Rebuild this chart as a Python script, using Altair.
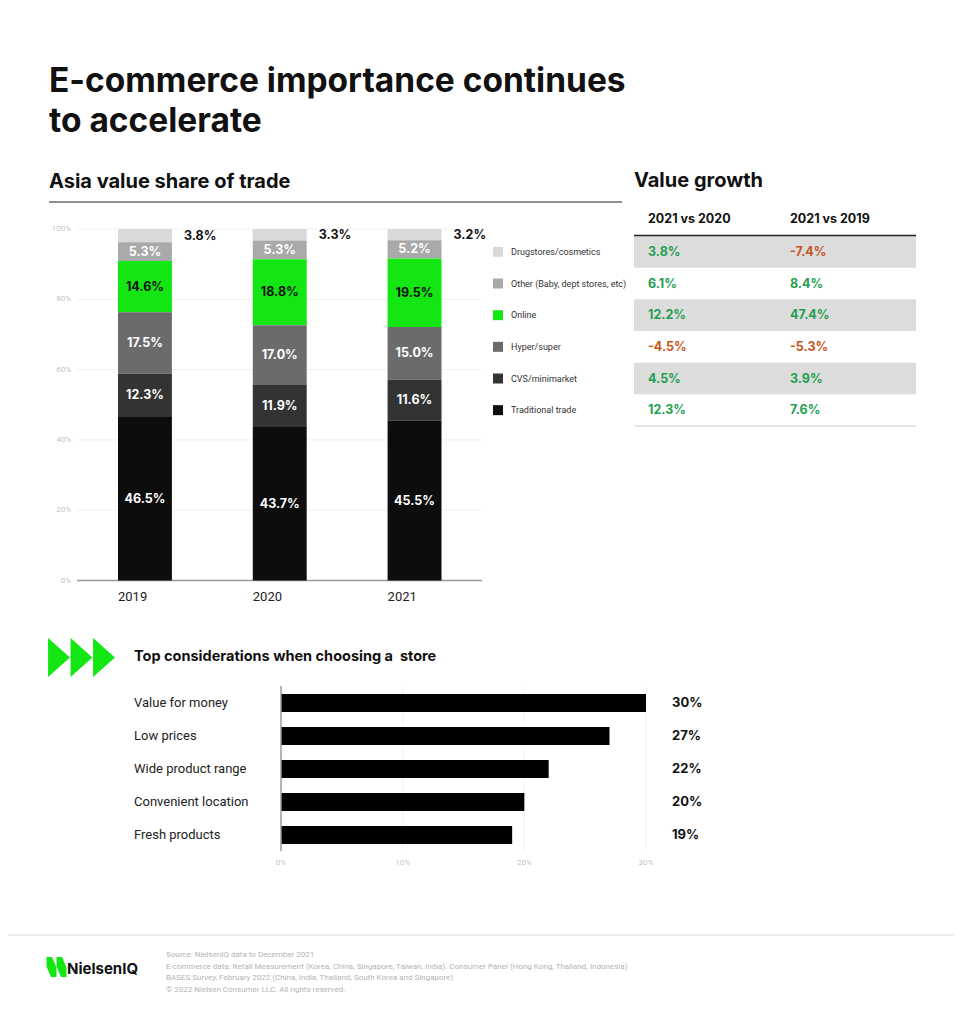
import pandas as pd
import altair as alt

# page offset: the html body has an 8px margin
OFF = 8
W, H = 946, 1007
BOLD = "Inter"
REG = "Roboto"

title = ["E-commerce importance continues", "to accelerate"]

years = ["2019", "2020", "2021"]
channels = ["Drugstores/cosmetics", "Other (Baby, dept stores, etc)", "Online",
            "Hyper/super", "CVS/minimarket", "Traditional trade"]
channel_colors = ["#d9d9d9", "#a9a9a9", "#14e614", "#6b6b6b", "#333333", "#0d0d0d"]
share_2019 = [3.8, 5.3, 14.6, 17.5, 12.3, 46.5]
share_2020 = [3.3, 5.3, 18.8, 17.0, 11.9, 43.7]
share_2021 = [3.2, 5.2, 19.5, 15.0, 11.6, 45.5]
share_ticks = [0, 20, 40, 60, 80, 100]

growth_cols = ["2021 vs 2020", "2021 vs 2019"]
growth_2020 = [3.8, 6.1, 12.2, -4.5, 4.5, 12.3]
growth_2019 = [-7.4, 8.4, 47.4, -5.3, 3.9, 7.6]

reasons = ["Value for money", "Low prices", "Wide product range",
           "Convenient location", "Fresh products"]
reason_pct = [30, 27, 22, 20, 19]
reason_ticks = [0, 10, 20, 30]

footer = ["Source: NielsenIQ data to December 2021",
          "E-commerce data: Retail Measurement (Korea, China, Singapore, Taiwan, India). Consumer Panel (Hong Kong, Thailand, Indonesia)",
          "BASES Survey, February 2022 (China, India, Thailand, South Korea and Singapore)",
          "\u00a9 2022 Nielsen Consumer LLC. All rights reserved."]


def px(v):
    return v - OFF


def text(t, x, y, size, font=REG, weight="normal", color="#111111",
         align="left", baseline="middle", **kw):
    return alt.Chart(pd.DataFrame({"k": [0]})).mark_text(
        text=t, font=font, fontSize=size, fontWeight=weight, color=color,
        align=align, baseline=baseline, **kw
    ).encode(x=alt.value(px(x)), y=alt.value(px(y)))


def hline(x1, x2, y, color, width=1):
    return alt.Chart(pd.DataFrame({"k": [0]})).mark_rule(
        color=color, strokeWidth=width
    ).encode(x=alt.value(px(x1)), x2=alt.value(px(x2)), y=alt.value(px(y)))


# ---------- stacked share chart ----------
rows = []
for yr, vals in zip(years, [share_2019, share_2020, share_2021]):
    for i, (ch, v) in enumerate(zip(channels, vals)):
        rows.append({"year": yr, "channel": ch, "value": v, "order": len(channels) - i})
share = pd.DataFrame(rows)

sx = alt.Scale(type="band", domain=years, range=[px(118), px(441.5)],
               paddingInner=0.6, paddingOuter=0)
sy = alt.Scale(domain=[0, 100], range=[px(580.5), px(229)], nice=False, zero=True)
color = alt.Scale(domain=channels, range=channel_colors)

stacked = alt.Chart(share).transform_stack(
    stack="value", groupby=["year"], as_=["v0", "v1"],
    sort=[alt.SortField("order", "ascending")]
).transform_calculate(
    mid="(datum.v0 + datum.v1) / 2",
    lbl="format(datum.value, '.1f') + '%'"
)

bars = stacked.mark_bar().encode(
    x=alt.X("year:O", scale=sx, axis=None),
    y=alt.Y("v0:Q", scale=sy, axis=None, stack=None),
    y2="v1:Q",
    color=alt.Color("channel:N", scale=color, legend=None),
)

inner_lbl = stacked.transform_filter(
    alt.datum.channel != channels[0]
).mark_text(font=BOLD, fontWeight="bold", fontSize=12.5).encode(
    x=alt.X("year:O", scale=sx, axis=None, bandPosition=0.5),
    y=alt.Y("mid:Q", scale=sy, axis=None),
    text="lbl:N",
    color=alt.condition(alt.datum.channel == "Online", alt.value("#111111"), alt.value("#ffffff")),
)

outer_lbl = stacked.transform_filter(
    alt.datum.channel == channels[0]
).mark_text(font=BOLD, fontWeight="bold", fontSize=12.5, align="left", dx=39,
            color="#111111").encode(
    x=alt.X("year:O", scale=sx, axis=None, bandPosition=0.5),
    y=alt.Y("mid:Q", scale=sy, axis=None),
    text="lbl:N",
)

tick_df = pd.DataFrame({"t": share_ticks})
grid = alt.Chart(tick_df).transform_filter("datum.t > 0").mark_rule(
    color="#f0f0f2", strokeWidth=1
).encode(
    y=alt.Y("t:Q", scale=sy, axis=None),
    x=alt.value(px(77)), x2=alt.value(px(482)),
)
baseline0 = alt.Chart(tick_df).transform_filter("datum.t == 0").mark_rule(
    color="#9a9a9a", strokeWidth=1.5
).encode(
    y=alt.Y("t:Q", scale=sy, axis=None),
    x=alt.value(px(77)), x2=alt.value(px(482)),
)
ytick_lbl = alt.Chart(tick_df).transform_calculate(
    lbl="datum.t + '%'"
).mark_text(font=REG, fontSize=8, color="#c2c2cc", align="right").encode(
    y=alt.Y("t:Q", scale=sy, axis=None),
    x=alt.value(px(71)),
    text="lbl:N",
)
xlbl = alt.Chart(pd.DataFrame({"year": years})).mark_text(
    font=REG, fontSize=13, color="#222222", align="left"
).encode(
    x=alt.X("year:O", scale=sx, axis=None, bandPosition=0),
    y=alt.value(px(597)),
    text="year:N",
)

# ---------- legend + growth table (shared row scale) ----------
rowscale = alt.Scale(type="band", domain=channels, range=[px(236), px(426)],
                     paddingInner=0, paddingOuter=0)
legend_df = pd.DataFrame({"channel": channels})
leg_sym = alt.Chart(legend_df).mark_square(size=100, opacity=1).encode(
    y=alt.Y("channel:N", scale=rowscale, axis=None, bandPosition=0.5),
    x=alt.value(px(498)),
    color=alt.Color("channel:N", scale=color, legend=None),
)
leg_txt = alt.Chart(legend_df).mark_text(
    font=REG, fontSize=9, color="#333333", align="left"
).encode(
    y=alt.Y("channel:N", scale=rowscale, axis=None, bandPosition=0.5),
    x=alt.value(px(511)),
    text="channel:N",
)

shade_df = pd.DataFrame({"channel": channels[0::2]})
shade = alt.Chart(shade_df).mark_rect(color="#dcdcdc").encode(
    y=alt.Y("channel:N", scale=rowscale, axis=None),
    x=alt.value(px(634)), x2=alt.value(px(916)),
)

grow_rows = []
for ch, a, b in zip(channels, growth_2020, growth_2019):
    grow_rows.append({"channel": ch, "col": growth_cols[0], "v": a})
    grow_rows.append({"channel": ch, "col": growth_cols[1], "v": b})
growth = pd.DataFrame(grow_rows)
colscale = alt.Scale(type="point", domain=growth_cols, range=[px(648), px(790)], padding=0)

grow_txt = alt.Chart(growth).transform_calculate(
    lbl="(datum.v < 0 ? '-' : '') + format(abs(datum.v), '.1f') + '%'"
).mark_text(font=BOLD, fontWeight="bold", fontSize=12.5, align="left").encode(
    y=alt.Y("channel:N", scale=rowscale, axis=None, bandPosition=0.5),
    x=alt.X("col:N", scale=colscale, axis=None),
    text="lbl:N",
    color=alt.condition("datum.v < 0", alt.value("#c4561c"), alt.value("#1f9e4f")),
)
grow_head = alt.Chart(pd.DataFrame({"col": growth_cols})).mark_text(
    font=BOLD, fontWeight="bold", fontSize=12.5, align="left", color="#111111"
).encode(
    x=alt.X("col:N", scale=colscale, axis=None),
    y=alt.value(px(219)),
    text="col:N",
)

# ---------- store considerations ----------
reason_df = pd.DataFrame({"reason": reasons, "pct": reason_pct})
ry = alt.Scale(type="band", domain=reasons, range=[px(694), px(844)],
               paddingInner=0.4545, paddingOuter=0)
rx = alt.Scale(domain=[0, 30], range=[px(281), px(646)], nice=False)

r_bars = alt.Chart(reason_df).mark_bar(color="#000000").encode(
    y=alt.Y("reason:N", scale=ry, axis=None),
    x=alt.X("pct:Q", scale=rx, axis=None),
)
r_cat = alt.Chart(reason_df).mark_text(
    font=REG, fontSize=13, color="#222222", align="left"
).encode(
    y=alt.Y("reason:N", scale=ry, axis=None, bandPosition=0.5),
    x=alt.value(px(134)),
    text="reason:N",
)
r_val = alt.Chart(reason_df).transform_calculate(
    lbl="datum.pct + '%'"
).mark_text(font=BOLD, fontWeight="bold", fontSize=13, color="#111111", align="left").encode(
    y=alt.Y("reason:N", scale=ry, axis=None, bandPosition=0.5),
    x=alt.value(px(672)),
    text="lbl:N",
)
rtick_df = pd.DataFrame({"t": reason_ticks})
r_grid = alt.Chart(rtick_df).transform_filter("datum.t > 0").mark_rule(
    color="#f2f2f4", strokeWidth=1
).encode(
    x=alt.X("t:Q", scale=rx, axis=None),
    y=alt.value(px(686)), y2=alt.value(px(851)),
)
r_axis = alt.Chart(rtick_df).transform_filter("datum.t == 0").mark_rule(
    color="#9a9a9a", strokeWidth=1.5
).encode(
    x=alt.X("t:Q", scale=rx, axis=None),
    y=alt.value(px(686)), y2=alt.value(px(851)),
)
r_tick = alt.Chart(rtick_df).transform_calculate(
    lbl="datum.t + '%'"
).mark_text(font=REG, fontSize=8, color="#c2c2cc").encode(
    x=alt.X("t:Q", scale=rx, axis=None),
    y=alt.value(px(863)),
    text="lbl:N",
)

# green arrows and logo marks
arrow_df = pd.DataFrame({"i": [0, 1, 2]})
arrows = alt.Chart(arrow_df).mark_point(
    shape="M-0.56,-1 L0.56,0 L-0.56,1 Z", size=1521, filled=True, opacity=1,
    color="#14e614", strokeWidth=0
).encode(
    x=alt.X("i:O", scale=alt.Scale(type="point", range=[px(59), px(104)], padding=0), axis=None),
    y=alt.value(px(657.5)),
)
logo = alt.Chart(pd.DataFrame({"i": [0, 1]})).mark_point(
    shape="M-0.5,-1 L0.05,-1 L0.5,0.05 L0.5,1 L-0.05,1 L-0.5,-0.05 Z",
    size=400, filled=True, opacity=1, color="#14e614", strokeWidth=0
).encode(
    x=alt.X("i:O", scale=alt.Scale(type="point", range=[px(51.5), px(61.5)], padding=0), axis=None),
    y=alt.value(px(967)),
)

chart = alt.layer(
    text(title, 49, 81.5, 33.5, BOLD, "bold", lineHeight=40.5),
    text("Asia value share of trade", 49, 182, 20, BOLD, "bold"),
    hline(49, 622, 202, "#222222", 1.2),
    text("Value growth", 634, 181, 20, BOLD, "bold"),
    grid, baseline0, ytick_lbl, bars, inner_lbl, outer_lbl, xlbl,
    leg_sym, leg_txt,
    shade, hline(634, 916, 235.5, "#222222", 1.5), hline(634, 916, 426, "#cccccc", 1.2),
    grow_head, grow_txt,
    arrows,
    text("Top considerations when choosing a\u00a0 store", 134, 657, 14.5, BOLD, "bold"),
    r_grid, r_bars, r_axis, r_cat, r_val, r_tick,
    hline(0, 962, 935, "#dddddd", 1),
    logo,
    text("NielsenIQ", 67, 969, 15, BOLD, "bold"),
    text(footer, 166, 951, 8, REG, "normal", "#b4b4b4", baseline="top", lineHeight=11.6),
).resolve_scale(
    x="independent", y="independent", color="independent"
).properties(
    width=W, height=H, autosize=alt.AutoSizeParams(type="none"), padding=0
).configure_view(stroke=None)

chart.save("out.html", embed_options={"renderer": "svg", "actions": False})
